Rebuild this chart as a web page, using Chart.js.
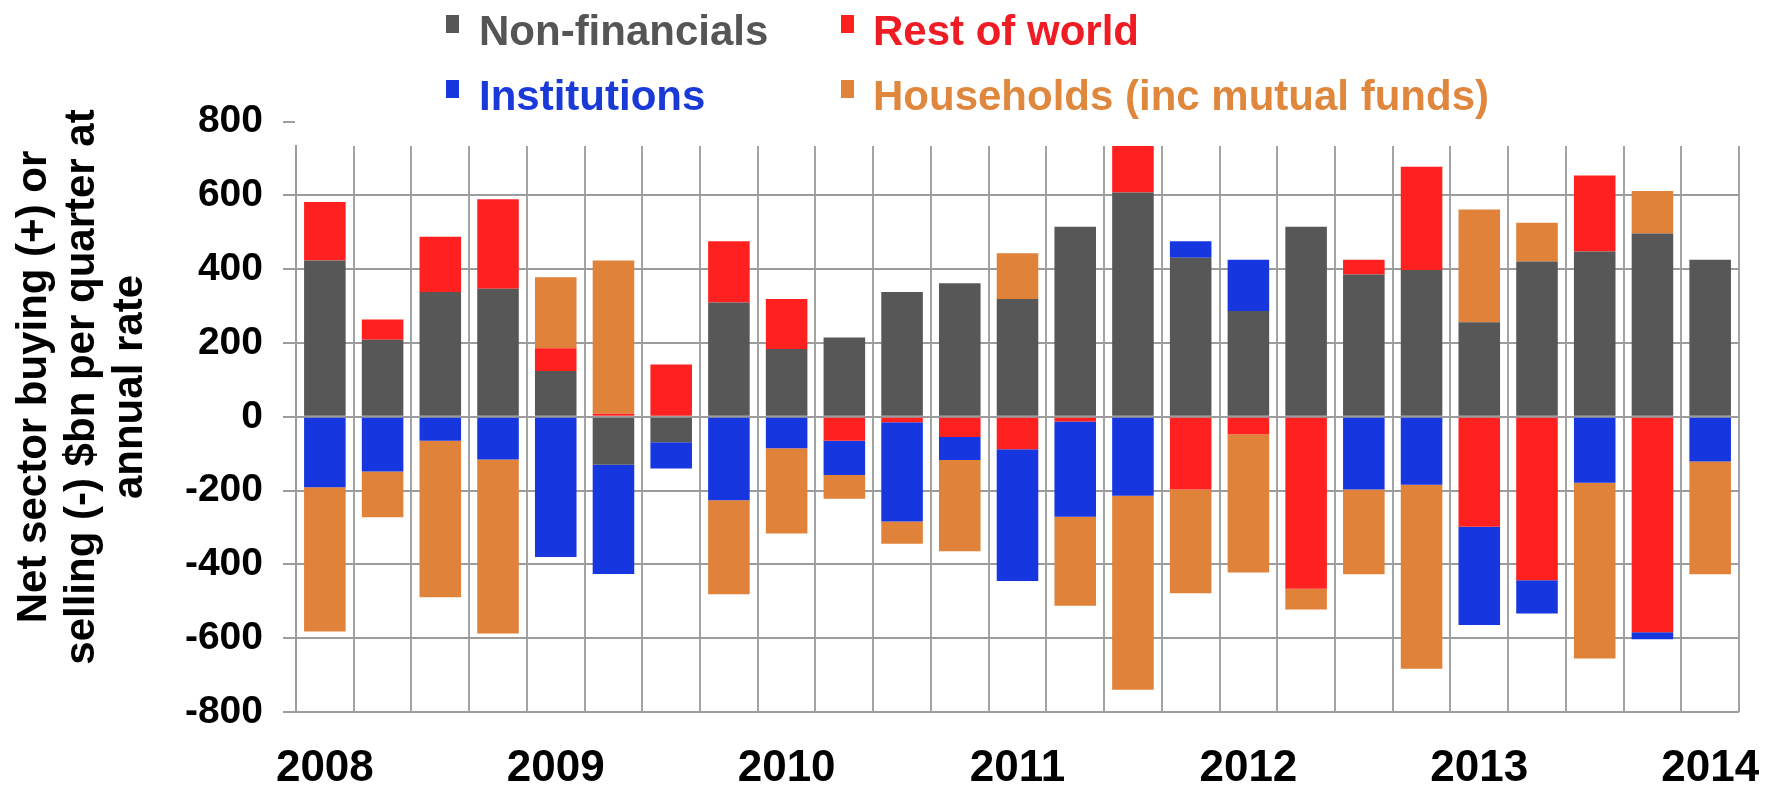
<!DOCTYPE html>
<html>
<head>
<meta charset="utf-8">
<script src="https://cdn.jsdelivr.net/npm/chart.js@4.4.1/dist/chart.umd.min.js"></script>
<style>
  html, body { margin: 0; padding: 0; background: #fff; }
  #wrap { position: relative; width: 1790px; height: 794px; overflow: hidden; }
  #chart { position: absolute; left: 0; top: 0; }
  .leg { position: absolute; font-family: "Liberation Sans", Arial, sans-serif; font-weight: bold;
         font-size: 42px; line-height: 43px; white-space: nowrap; }
  .sw { position: absolute; width: 13px; height: 18px; }
  #ytitle { position: absolute; width: 700px; height: 144px; left: -270px; top: 315px;
            transform: rotate(-90deg); transform-origin: 50% 50%;
            font-family: "Liberation Sans", Arial, sans-serif; font-weight: bold;
            font-size: 42px; line-height: 48px; text-align: center; color: #000; white-space: nowrap; }
</style>
</head>
<body>
<div id="wrap">
  <canvas id="chart" width="1790" height="794"></canvas>
  <div id="legend"></div>
  <div id="ytitle">Net sector buying (+) or<br>selling (-) $bn per quarter at<br>annual rate</div>
</div>
<script>
// Quarterly periods, 2008 Q1 to 2014 Q1
const quarters = [
  '2008 Q1','2008 Q2','2008 Q3','2008 Q4',
  '2009 Q1','2009 Q2','2009 Q3','2009 Q4',
  '2010 Q1','2010 Q2','2010 Q3','2010 Q4',
  '2011 Q1','2011 Q2','2011 Q3','2011 Q4',
  '2012 Q1','2012 Q2','2012 Q3','2012 Q4',
  '2013 Q1','2013 Q2','2013 Q3','2013 Q4',
  '2014 Q1'
];

// Net buying (+) / selling (-) by sector, $bn per quarter at annual rate
const nonFinancials = [424, 209, 338, 347, 124, -130, -69, 310, 184, 215, 338, 362, 319, 515, 608, 431, 287, 515, 386, 398, 256, 421, 448, 497, 426];
const restOfWorld   = [158, 55, 150, 243, 62, 8, 142, 166, 135, -65, -15, -55, -88, -13, 126, -197, -47, -466, 40, 280, -298, -443, 206, -584, 0];
const institutions  = [-191, -148, -65, -116, -380, -296, -71, -226, -85, -93, -269, -62, -357, -258, -214, 45, 139, 0, -197, -184, -266, -90, -179, -19, -121];
const households    = [-391, -124, -424, -471, 192, 416, 0, -255, -231, -64, -60, -247, 124, -241, -526, -281, -375, -56, -230, -499, 306, 105, -476, 115, -306];

// Axis labels; the plotting frame stops a little under the top label
const yTicks = [-800, -600, -400, -200, 0, 200, 400, 600, 800];
const yFrameTop = 734;

const series = [
  { label: 'Non-financials', data: nonFinancials, color: '#575757', text: '#555555' },
  { label: 'Rest of world', data: restOfWorld, color: '#ff2020', text: '#f01c24' },
  { label: 'Institutions', data: institutions, color: '#1636e0', text: '#1a3ad8' },
  { label: 'Households (inc mutual funds)', data: households, color: '#e0823a', text: '#e0873e' }
];

// Two-column legend above the plot
const legendPos = [
  { sx: 446, sy: 15, tx: 479, ty: 9 },
  { sx: 841, sy: 15, tx: 873, ty: 9 },
  { sx: 446, sy: 80, tx: 479, ty: 74 },
  { sx: 841, sy: 80, tx: 873, ty: 74 }
];
const legend = document.getElementById('legend');
series.forEach((s, i) => {
  const p = legendPos[i];
  const sw = document.createElement('div');
  sw.className = 'sw';
  sw.style.left = p.sx + 'px'; sw.style.top = p.sy + 'px'; sw.style.background = s.color;
  const t = document.createElement('div');
  t.className = 'leg';
  t.style.left = p.tx + 'px'; t.style.top = p.ty + 'px'; t.style.color = s.text;
  t.textContent = s.label;
  legend.appendChild(sw); legend.appendChild(t);
});

const gridGrey = '#a3a3a3';
const axisGrey = '#9c9c9c';

new Chart(document.getElementById('chart'), {
  type: 'bar',
  data: {
    labels: quarters,
    datasets: series.map(s => ({
      label: s.label,
      data: s.data,
      backgroundColor: s.color,
      borderWidth: 0,
      barPercentage: 0.72,
      categoryPercentage: 1.0
    }))
  },
  options: {
    responsive: false,
    animation: false,
    layout: { padding: { left: 0, right: 45, top: 146, bottom: 0 } },
    plugins: { legend: { display: false }, tooltip: { enabled: false } },
    scales: {
      x: {
        stacked: true,
        grid: { offset: true, color: gridGrey, lineWidth: 2, drawTicks: false },
        border: { display: false },
        ticks: {
          autoSkip: false, maxRotation: 0, minRotation: 0, padding: 30,
          color: '#000',
          font: { family: '"Liberation Sans", Arial, sans-serif', size: 44, weight: 'bold' },
          callback: (v, i) => (i % 4 === 0 ? quarters[i].slice(0, 4) : '')
        },
        afterFit: s => { s.height = 82; }
      },
      y: {
        stacked: true,
        min: yTicks[0],
        max: yFrameTop,
        afterBuildTicks: s => { s.ticks = yTicks.map(v => ({ value: v })); },
        grid: {
          // the top label keeps only its tick mark, no line across the plot
          color: c => (c.tick && c.tick.value > yFrameTop ? 'rgba(0,0,0,0)' : axisGrey),
          tickColor: axisGrey, tickLength: 13, lineWidth: 2
        },
        border: { color: axisGrey, width: 2 },
        ticks: {
          padding: 20, color: '#000',
          font: { family: '"Liberation Sans", Arial, sans-serif', size: 39, weight: 'bold' }
        },
        afterFit: s => { s.width = 296; }
      }
    }
  }
});
</script>
</body>
</html>
